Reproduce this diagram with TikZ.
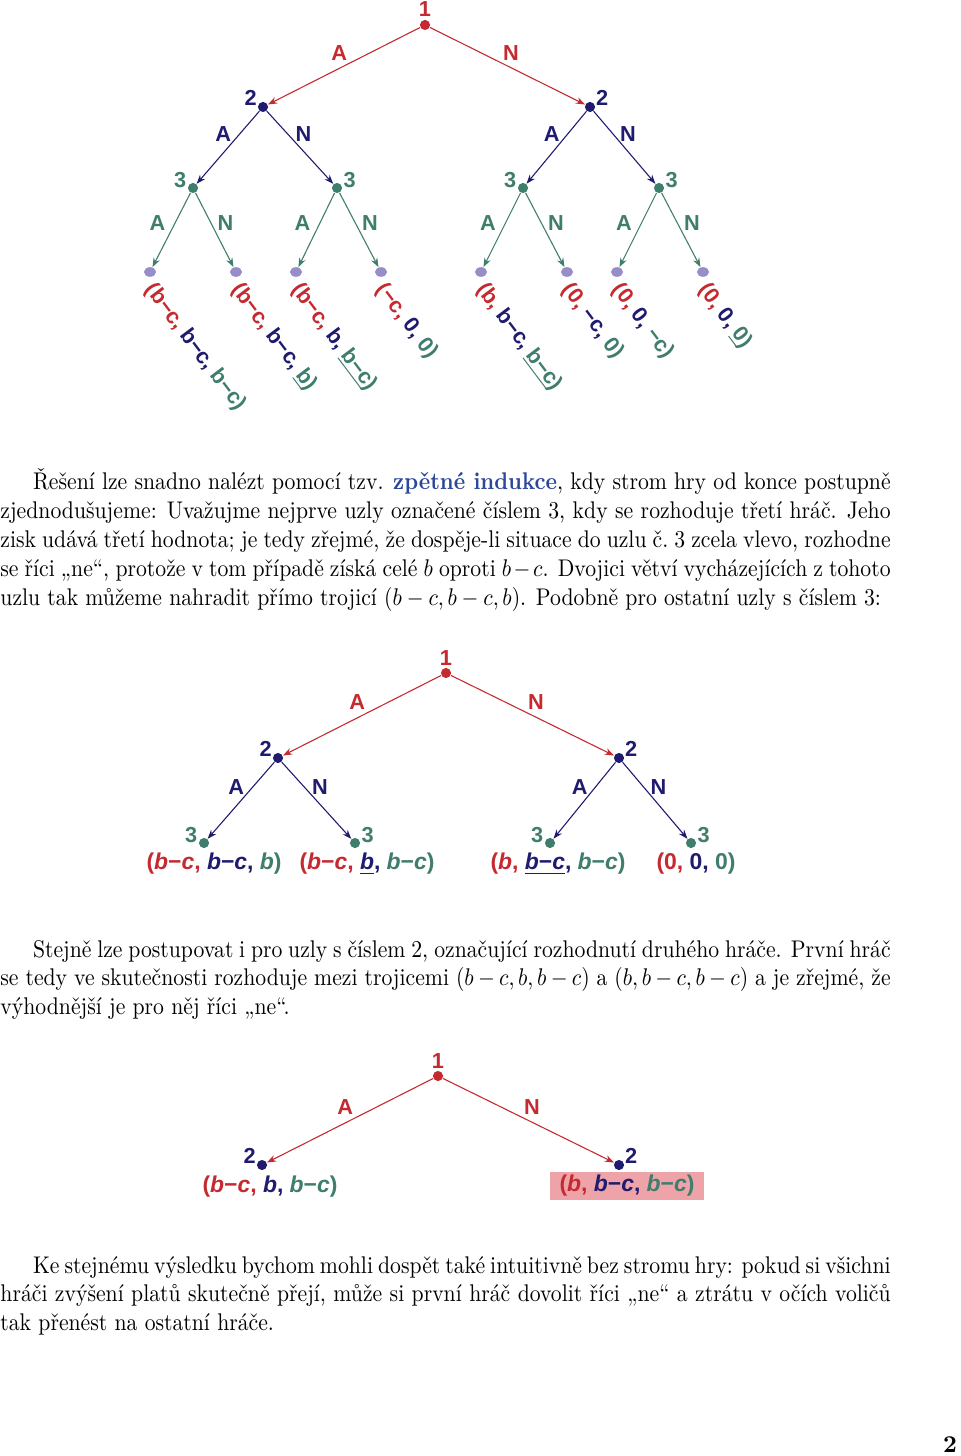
\documentclass[tikz,border=0pt]{standalone}
\usepackage{fontspec}
\usepackage{xcolor}
\usepackage{tikz}
\usetikzlibrary{arrows.meta,shapes.geometric,positioning,calc}
\newfontfamily\lblfont{Liberation Sans}
\definecolor{hracA}{HTML}{C52A30}
\definecolor{hracB}{HTML}{1F1B6E}
\definecolor{hracC}{HTML}{3F7D6D}
\definecolor{listC}{HTML}{978DC8}
\definecolor{zvyraz}{HTML}{EDA3A8}
\definecolor{modr}{HTML}{2B469A}
\newcommand{\trojice}[3]{\textcolor{hracA}{(#1,} \textcolor{hracB}{#2,} \textcolor{hracC}{#3)}}
\newcommand{\ib}{\textit{b}}
\newcommand{\ic}{\textit{c}}
\hyphenpenalty=10000
\exhyphenpenalty=10000
\tikzset{
  uzel/.style={circle, fill=#1, inner sep=0pt, minimum size=4.2pt},
  list/.style={ellipse, fill=listC, inner sep=0pt, minimum width=5pt, minimum height=4pt},
  hrana/.style={-{Stealth[length=3.8pt,width=2.8pt]}, line width=0.45pt, draw=#1},
  hlbl/.style={font=\lblfont\bfseries\fontsize{9}{10}\selectfont, text=#1, inner sep=0.6pt},
  plbl/.style={hlbl=#1, yshift=-1.8pt},
  vA/.style={hlbl=#1, xshift=-2pt, yshift=5.4pt},
  vN/.style={hlbl=#1, xshift=1.4pt, yshift=5.4pt},
  vA3/.style={hlbl=#1, xshift=-5.8pt, yshift=2.9pt},
  vN3/.style={hlbl=#1, xshift=4.5pt, yshift=2.9pt},
  vyplata/.style={font=\lblfont\bfseries\fontsize{9}{10}\selectfont, inner sep=0pt},
  vyplataR/.style={vyplata, rotate=-53, anchor=west},
  vyplata2/.style={font=\lblfont\bfseries\fontsize{9.5}{11}\selectfont, inner sep=0pt},
  odst/.style={font=\fontsize{10}{12}\selectfont, text width=410pt, align=justify,
               inner sep=0pt, anchor=base west, xscale=0.9, transform shape},
}

\begin{document}
\begin{tikzpicture}[x=0.4145pt, y=-0.4145pt]
  \fill[white] (0,0) rectangle (960,1456);
  \useasboundingbox (0,0) rectangle (960,1456);

  % prvni strom
  \node[uzel=hracA, label={[hlbl=hracA, yshift=0.6pt]above:1}] (r1) at (425,25) {};
  \node[uzel=hracB, label={[plbl=hracB]140:2}] (a1) at (263,107) {};
  \node[uzel=hracB, label={[plbl=hracB]40:2}] (a2) at (590,107) {};
  \node[uzel=hracC, label={[plbl=hracC]150:3}] (b1) at (193,188) {};
  \node[uzel=hracC, label={[plbl=hracC]30:3}] (b2) at (337,188) {};
  \node[uzel=hracC, label={[plbl=hracC]150:3}] (b3) at (523,188) {};
  \node[uzel=hracC, label={[plbl=hracC]30:3}] (b4) at (659,188) {};
  \foreach \x [count=\i] in {150,236,296,381,481,567,617,703}
    \node[list] (l\i) at (\x,272) {};

  \draw[hrana=hracA] (r1) -- node[vA=hracA] {A} (a1);
  \draw[hrana=hracA] (r1) -- node[vN=hracA] {N} (a2);
  \draw[hrana=hracB] (a1) -- node[vA=hracB] {A} (b1);
  \draw[hrana=hracB] (a1) -- node[vN=hracB] {N} (b2);
  \draw[hrana=hracB] (a2) -- node[vA=hracB] {A} (b3);
  \draw[hrana=hracB] (a2) -- node[vN=hracB] {N} (b4);
  \foreach \u/\p/\q in {b1/1/2, b2/3/4, b3/5/6, b4/7/8} {
    \draw[hrana=hracC] (\u) -- node[vA3=hracC] {A} (l\p);
    \draw[hrana=hracC] (\u) -- node[vN3=hracC] {N} (l\q);
  }

  \node[vyplataR] (v1) at ([shift={(-1,14)}]l1) {\trojice{b−c}{b−c}{b−c}};
  \node[vyplataR] (v2) at ([shift={(-1,14)}]l2) {\trojice{b−c}{b−c}{\underline{b}}};
  \node[vyplataR] (v3) at ([shift={(-1,14)}]l3) {\trojice{b−c}{b}{\underline{b−c}}};
  \node[vyplataR] (v4) at ([shift={(-1,14)}]l4) {\trojice{−c}{0}{0}};
  \node[vyplataR] (v5) at ([shift={(-1,14)}]l5) {\trojice{b}{b−c}{\underline{b−c}}};
  \node[vyplataR] (v6) at ([shift={(-1,14)}]l6) {\trojice{0}{−c}{0}};
  \node[vyplataR] (v7) at ([shift={(-1,14)}]l7) {\trojice{0}{0}{−c}};
  \node[vyplataR] (v8) at ([shift={(-1,14)}]l8) {\trojice{0}{0}{\underline{0}}};

  % text 1
  \node[odst] (t1) at (0,490) {\hspace*{15pt}Řešení lze snadno nalézt pomocí tzv. \textbf{\textcolor{modr}{zpětné indukce}}, kdy strom hry od konce postupně\linebreak
    zjednodušujeme: Uvažujme nejprve uzly označené číslem 3, kdy se rozhoduje třetí hráč. Jeho\linebreak
    zisk udává třetí hodnota; je tedy zřejmé, že dospěje-li situace do uzlu č.~3 zcela vlevo, rozhodne\linebreak
    se říci „ne“, protože v~tom případě získá celé $b$ oproti $b-c$. Dvojici větví vycházejících z~tohoto\linebreak
    uzlu tak můžeme nahradit přímo trojicí $(b-c,b-c,b)$. Podobně pro ostatní uzly s~číslem 3:};

  % druhy strom
  \node[uzel=hracA, label={[hlbl=hracA]above:1}] (r2) at (446,673) {};
  \node[uzel=hracB, label={[plbl=hracB]140:2}] (c1) at (278,758) {};
  \node[uzel=hracB, label={[plbl=hracB]40:2}] (c2) at (619,758) {};
  \node[uzel=hracC, label={[plbl=hracC]150:3}] (d1) at (204,843) {};
  \node[uzel=hracC, label={[plbl=hracC]30:3}] (d2) at (355,843) {};
  \node[uzel=hracC, label={[plbl=hracC]150:3}] (d3) at (550,843) {};
  \node[uzel=hracC, label={[plbl=hracC]30:3}] (d4) at (691,843) {};
  \draw[hrana=hracA] (r2) -- node[vA=hracA] {A} (c1);
  \draw[hrana=hracA] (r2) -- node[vN=hracA] {N} (c2);
  \draw[hrana=hracB] (c1) -- node[vA=hracB] {A} (d1);
  \draw[hrana=hracB] (c1) -- node[vN=hracB] {N} (d2);
  \draw[hrana=hracB] (c2) -- node[vA=hracB] {A} (d3);
  \draw[hrana=hracB] (c2) -- node[vN=hracB] {N} (d4);
  \node[vyplata2] (w1) at (214,864) {\trojice{\ib−\ic}{\ib−\ic}{\ib}};
  \node[vyplata2] (w2) at (367,864) {\trojice{\ib−\ic}{\underline{\ib}}{\ib−\ic}};
  \node[vyplata2] (w3) at (558,864) {\trojice{\ib}{\underline{\ib−\ic}}{\ib−\ic}};
  \node[vyplata2] (w4) at (696,864) {\trojice{0}{0}{0}};

  % text 2
  \node[odst] (t2) at (0,957) {\hspace*{15pt}Stejně lze postupovat i pro uzly s~číslem 2, označující rozhodnutí druhého hráče. První hráč\linebreak
    se tedy ve skutečnosti rozhoduje mezi trojicemi $(b-c,b,b-c)$ a $(b,b-c,b-c)$ a je zřejmé, že\linebreak
    výhodnější je pro něj říci „ne“.};

  % treti strom
  \node[uzel=hracA, label={[hlbl=hracA]above:1}] (r3) at (438,1076) {};
  \node[uzel=hracB, label={[plbl=hracB]140:2}] (e1) at (262,1165) {};
  \node[uzel=hracB, label={[plbl=hracB]40:2}] (e2) at (619,1165) {};
  \draw[hrana=hracA] (r3) -- node[vA=hracA] {A} (e1);
  \draw[hrana=hracA] (r3) -- node[vN=hracA] {N} (e2);
  \node[vyplata2] (s1) at (270,1187) {\trojice{\ib−\ic}{\ib}{\ib−\ic}};
  \node[vyplata2, fill=zvyraz, minimum width=64pt, minimum height=11.6pt] (s2) at (627,1186) {\trojice{\ib}{\ib−\ic}{\ib−\ic}};

  % text 3
  \node[odst] (t3) at (0,1273) {\hspace*{15pt}Ke stejnému výsledku bychom mohli dospět také intuitivně bez stromu hry: pokud si všichni\linebreak
    hráči zvýšení platů skutečně přejí, může si první hráč dovolit říci „ne“ a ztrátu v~očích voličů\linebreak
    tak přenést na ostatní hráče.};

  \node[font=\bfseries\fontsize{10}{12}\selectfont, inner sep=0pt] (pg) at (950,1445) {2};
\end{tikzpicture}
\end{document}
